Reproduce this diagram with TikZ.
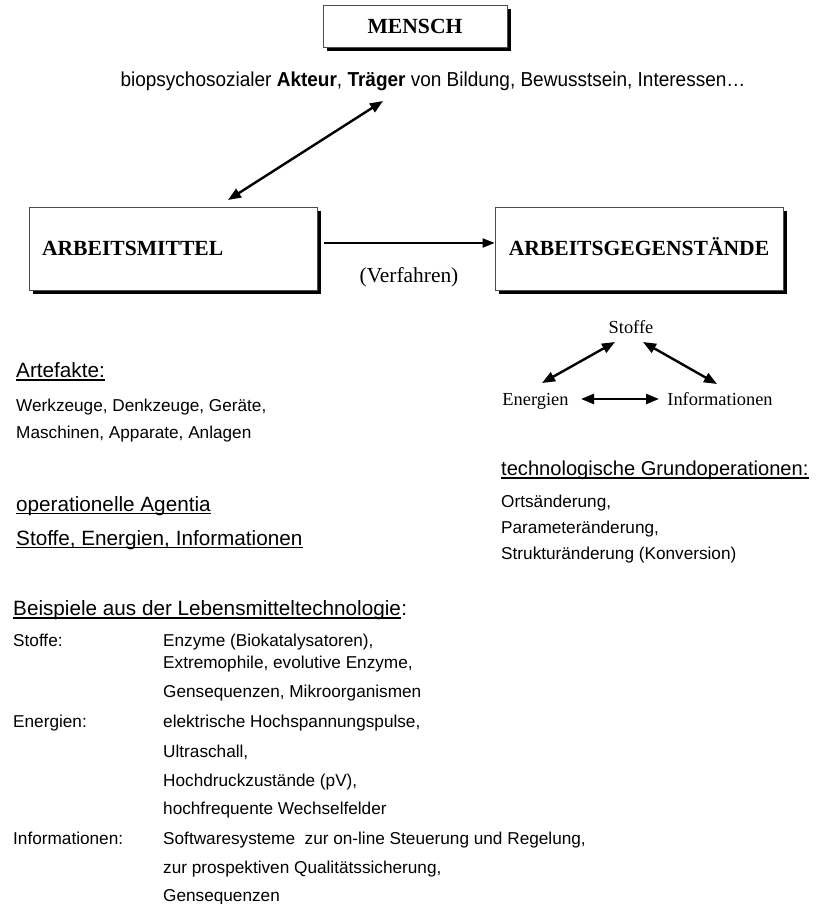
\documentclass[tikz,border=0pt]{standalone}
\usepackage{fontspec}
\setmainfont{Liberation Serif}
\newfontfamily\arial{Liberation Sans}
\newfontfamily\arialc[FakeStretch=0.94]{Liberation Sans}
\usetikzlibrary{arrows.meta,shadows}
\tikzset{
 box/.style={draw=black!70, line width=0.8pt, fill=white,
   drop shadow={shadow xshift=4pt, shadow yshift=-4pt, fill=black, opacity=1},
   font=\fontsize{21.6}{24}\selectfont\bfseries, text height=14.3pt, text depth=0pt},
 dbl/.style={line width=2.4pt, {Triangle[length=13pt,width=10pt]}-{Triangle[length=13pt,width=10pt]}},
 one/.style={line width=2pt, -{Triangle[length=12pt,width=9pt]}},
 tx/.style={inner sep=0pt, anchor=base west},
 hd/.style={tx, font=\arial\fontsize{20.7}{24}\selectfont},
 sm/.style={tx, font=\arial\fontsize{17.2}{20}\selectfont},
 tm/.style={inner sep=0pt, anchor=base, font=\fontsize{18.4}{21}\selectfont},
 vf/.style={inner sep=0pt, anchor=base, font=\fontsize{21.4}{24}\selectfont},
 ul/.style={line width=1.5pt},
}
\begin{document}
\begin{tikzpicture}[x=1pt,y=-1pt]
\useasboundingbox[fill=white] (0,0) rectangle (819,904);
% boxes
\node[box, minimum width=184pt, minimum height=42pt] (mensch) at (415,26) {MENSCH};
\node[box, minimum width=288pt, minimum height=83pt, text width=262pt, align=left, inner xsep=13pt] (am) at (173,248.5) {ARBEITSMITTEL};
\node[box, minimum width=288pt, minimum height=83pt] (ag) at (639,248.5) {ARBEITSGEGENSTÄNDE};
% top line
\node[inner sep=0pt, anchor=base, font=\arialc\fontsize{20.2}{23}\selectfont] (akt) at (433,87)
  {biopsychosozialer \textbf{Akteur}, \textbf{Träger} von Bildung, Bewusstsein, Interessen…};
\coordinate (d1) at (383,101);
\coordinate (d2) at (228,200);
\draw[dbl] (d1) -- (d2);
% process arrow
\draw[one, shorten <=7pt] ([yshift=5.5pt]am.east) -- ([yshift=5.5pt]ag.west);
\node[vf] (verf) at (409,282) {(Verfahren)};
% triangle
\node[tm] (sto) at (631,333) {Stoffe};
\node[tm] (ene) at (535.5,405) {Energien};
\node[tm] (inf) at (720,405) {Informationen};
\coordinate (s1) at (615,342); \coordinate (e1) at (542,383);
\coordinate (s2) at (643,342); \coordinate (i1) at (717,384);
\coordinate (e2) at (581,399); \coordinate (i2) at (659,399);
\draw[dbl] (s1) -- (e1);
\draw[dbl] (s2) -- (i1);
\draw[dbl] (e2) -- (i2);
% left texts
\node[hd] (art) at (16,377.5) {Artefakte:};
\draw[ul] ([yshift=-2.3pt]art.base west) -- ([yshift=-2.3pt]art.base east);
\node[sm] (wz) at (16,411) {Werkzeuge, Denkzeuge, Geräte,};
\node[sm] (ma) at (16,438) {Maschinen, Apparate, Anlagen};
\node[hd] (op) at (16,511) {operationelle Agentia};
\draw[ul] ([yshift=-2.3pt]op.base west) -- ([yshift=-2.3pt]op.base east);
\node[hd] (sei) at (16,545) {Stoffe, Energien, Informationen};
\draw[ul] ([yshift=-2.5pt]sei.base west) -- ([yshift=-2.5pt]sei.base east);
% right texts
\node[hd, font=\arial\fontsize{20.1}{24}\selectfont] (tg) at (501,475) {technologische Grundoperationen:};
\draw[ul] ([yshift=-3pt]tg.base west) -- ([yshift=-3pt]tg.base east);
\node[sm] (o1) at (501,507) {Ortsänderung,};
\node[sm] (o2) at (501,533) {Parameteränderung,};
\node[sm] (o3) at (501,559) {Strukturänderung (Konversion)};
% examples
\node[hd] (bsp) at (13,615) {Beispiele aus der Lebensmitteltechnologie};
\node[hd] (bspc) at (bsp.base east) {:};
\draw[ul] ([yshift=-2.8pt]bsp.base west) -- ([yshift=-2.8pt]bsp.base east);
\node[sm] (k1) at (13,646) {Stoffe:};
\node[sm] (v1) at (163,646) {Enzyme (Biokatalysatoren),};
\node[sm] (v2) at (163,668) {Extremophile, evolutive Enzyme,};
\node[sm] (v3) at (163,697) {Gensequenzen, Mikroorganismen};
\node[sm] (k2) at (13,727) {Energien:};
\node[sm] (v4) at (163,727) {elektrische Hochspannungspulse,};
\node[sm] (v5) at (163,757) {Ultraschall,};
\node[sm] (v6) at (163,786) {Hochdruckzustände (pV),};
\node[sm] (v7) at (163,814) {hochfrequente Wechselfelder};
\node[sm] (k3) at (13,844) {Informationen:};
\node[sm] (v8) at (163,844) {Softwaresysteme\ \ zur on-line Steuerung und Regelung,};
\node[sm] (v9) at (163,873) {zur prospektiven Qualitätssicherung,};
\node[sm] (v10) at (163,901) {Gensequenzen};
\end{tikzpicture}
\end{document}
